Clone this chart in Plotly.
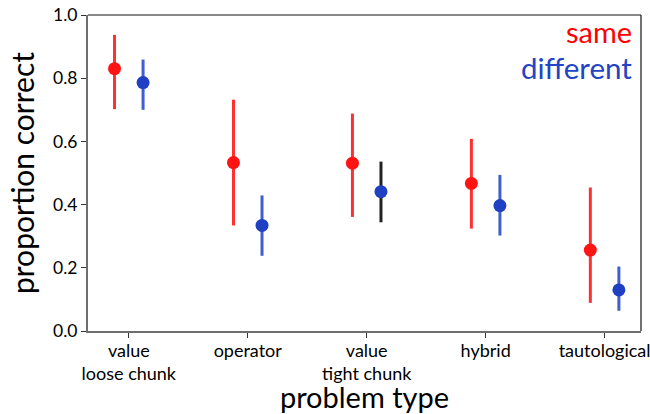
import plotly.graph_objects as go

categories = ["value<br>loose chunk", "operator", "value<br>tight chunk", "hybrid", "tautological"]

same_mean = [0.830, 0.533, 0.531, 0.467, 0.256]
same_hi = [0.937, 0.732, 0.688, 0.608, 0.454]
same_lo = [0.702, 0.334, 0.361, 0.324, 0.089]

diff_mean = [0.786, 0.334, 0.441, 0.397, 0.130]
diff_hi = [0.859, 0.429, 0.536, 0.494, 0.204]
diff_lo = [0.700, 0.238, 0.344, 0.302, 0.064]

diff_err_colors = ["#3d5fcf", "#3d5fcf", "#222222", "#3d5fcf", "#3d5fcf"]

RED = "#ff1414"
RED_ERR = "#ff3030"
BLUE = "#1f40c2"
DODGE = 0.12

fig = go.Figure()

def add_err(xs, lo, hi, color):
    mid = [(l + h) / 2 for l, h in zip(lo, hi)]
    fig.add_trace(go.Scatter(
        x=xs, y=mid,
        mode="markers", marker=dict(size=0.1, opacity=0),
        error_y=dict(type="data", symmetric=False,
                     array=[h - m for h, m in zip(hi, mid)],
                     arrayminus=[m - l for l, m in zip(lo, mid)],
                     color=color, thickness=3, width=0),
        showlegend=False, hoverinfo="skip"))

for i in range(len(categories)):
    add_err([i - DODGE], [same_lo[i]], [same_hi[i]], RED_ERR)
    add_err([i + DODGE], [diff_lo[i]], [diff_hi[i]], diff_err_colors[i])

fig.add_trace(go.Scatter(
    x=[i - DODGE for i in range(len(categories))], y=same_mean,
    mode="markers", marker=dict(size=13, color=RED), name="same", showlegend=False))
fig.add_trace(go.Scatter(
    x=[i + DODGE for i in range(len(categories))], y=diff_mean,
    mode="markers", marker=dict(size=13, color=BLUE), name="different", showlegend=False))

font = "Lato, sans-serif"

fig.update_layout(
    width=650, height=414,
    margin=dict(l=88, r=9, t=15, b=83),
    paper_bgcolor="white", plot_bgcolor="white",
    font=dict(family=font, color="black", size=17),
    xaxis=dict(
        automargin=False,
        range=[-0.343, 4.306],
        tickmode="array", tickvals=list(range(len(categories))), ticktext=categories,
        showgrid=False, zeroline=False,
        showline=True, linecolor="#6e6e6e", linewidth=2,
        ticks="outside", ticklen=5, tickwidth=1, tickcolor="#333333",
        tickfont=dict(size=18, family=font),
        ticklabeloverflow="allow",
        ticklabelstandoff=-3,
        title=dict(text="problem type", font=dict(size=29, family=font), standoff=0),
    ),
    yaxis=dict(
        automargin=False,
        range=[0, 1.0],
        tickmode="array", tickvals=[0, 0.2, 0.4, 0.6, 0.8, 1.0],
        ticktext=["0.0", "0.2", "0.4", "0.6", "0.8", "1.0"],
        showgrid=False, zeroline=False,
        showline=True, linecolor="#6e6e6e", linewidth=2,
        ticks="outside", ticklen=5, tickwidth=1, tickcolor="#333333",
        tickfont=dict(size=17.5, family=font),
        title=dict(text="proportion correct", font=dict(size=30, family=font), standoff=10),
    ),
    shapes=[
        dict(type="line", xref="paper", yref="paper", x0=0, x1=1, y0=1, y1=1,
             line=dict(color="#111111", width=1.2)),
        dict(type="line", xref="paper", yref="paper", x0=1, x1=1, y0=0, y1=1,
             line=dict(color="#111111", width=1.2)),
    ],
    annotations=[
        dict(text="same", xref="paper", yref="paper", x=0.988, y=1.01,
             xanchor="right", yanchor="top", showarrow=False,
             font=dict(size=29, color="#ff0000", family=font)),
        dict(text="different", xref="paper", yref="paper", x=0.988, y=0.895,
             xanchor="right", yanchor="top", showarrow=False,
             font=dict(size=29.5, color="#2244c4", family=font)),
    ],
)

fig.write_html(
    "out.html",
    config={"displayModeBar": False},
    post_script="document.body.style.margin='0';document.body.style.overflow='hidden';",
)
